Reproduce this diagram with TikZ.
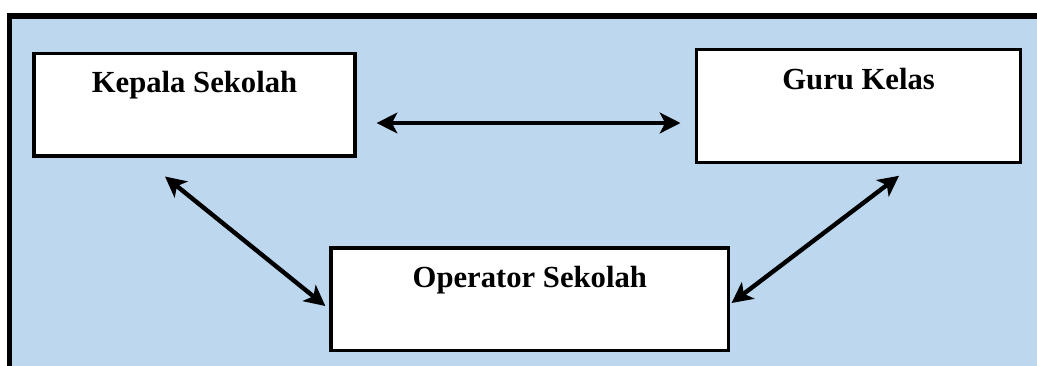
\documentclass[tikz,border=0pt]{standalone}
\usepackage{fontspec}
\setmainfont{Liberation Serif}
\usetikzlibrary{positioning,arrows.meta,calc}
\definecolor{cBg}{HTML}{BDD7EE}

\begin{document}
\begin{tikzpicture}[x=0.75pt,y=-0.75pt,>={Stealth[length=15.5pt,width=15.5pt,inset=4pt]},
  font=\fontsize{23}{27}\selectfont\bfseries,
  frame/.style={draw=black,line width=4pt,fill=cBg},
  box/.style={draw=black,line width=2.4pt,fill=white,inner sep=0pt,text height=29.5pt,text depth=#1},
  link/.style={<->,line width=3.3pt}]
\clip (0,0) rectangle (1037,365);
% outer panel
\draw[frame] (9.5,16) rectangle (1060,390);
% boxes
\node[box=47.6pt,minimum width=240.75pt] (kepala) at (194.5,104.5) {Kepala Sekolah};
\node[box=54.8pt,minimum width=243pt] (guru) at (858.6,106) {Guru Kelas};
\node[box=47.6pt,minimum width=298.3pt] (operator) at (529.8,299.4) {Operator Sekolah};
% arrows
\draw[link] ($(kepala.east)+(20,18.5)$) -- ($(guru.west)+(-14.5,17)$);
\draw[link] ($(kepala.south)+(-29.5,19)$) -- ($(operator.west)+(-4,6.6)$);
\draw[link] ($(guru.south)+(40.4,12)$) -- ($(operator.east)+(1.3,3.6)$);
\end{tikzpicture}
\end{document}
